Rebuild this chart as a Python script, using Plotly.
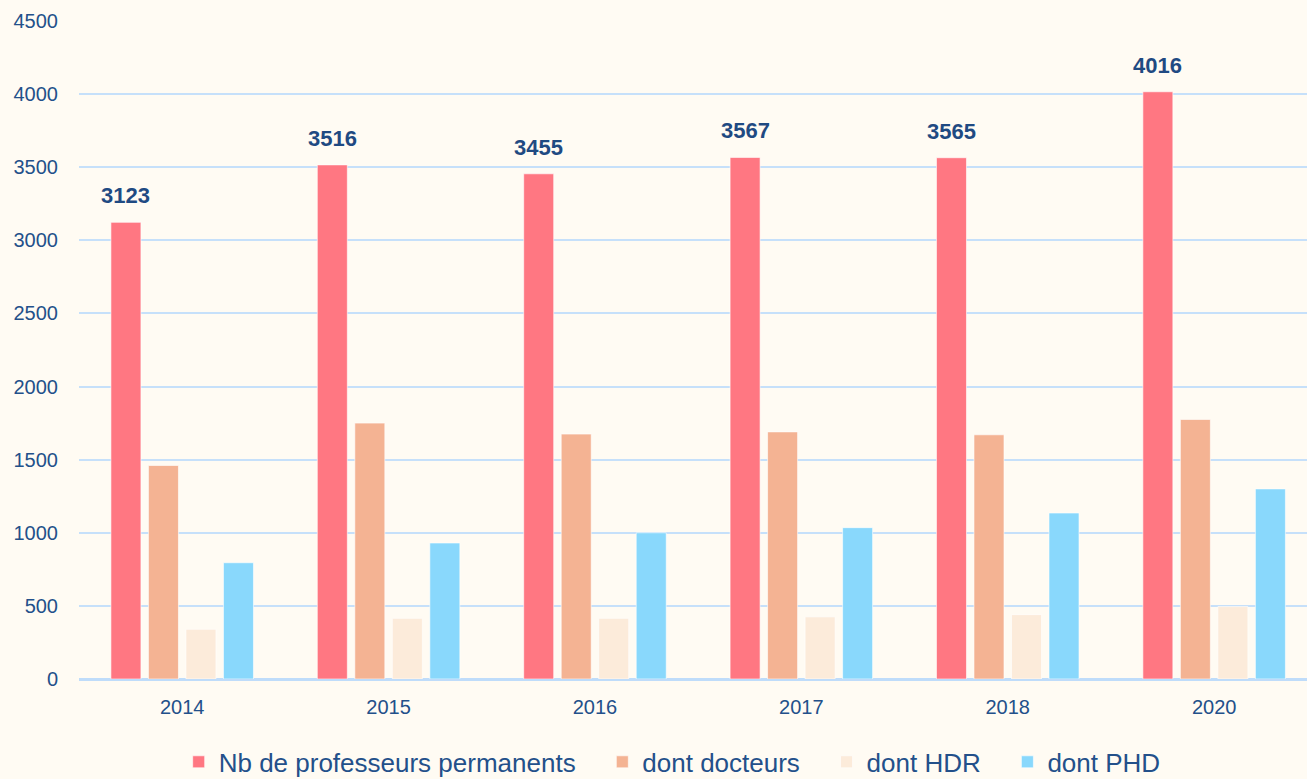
import plotly.graph_objects as go

# ===================== Data =====================
years = ["2014", "2015", "2016", "2017", "2018", "2020"]
permanents = [3123, 3516, 3455, 3567, 3565, 4016]
docteurs = [1460, 1750, 1675, 1690, 1670, 1775]
hdr = [340, 415, 415, 425, 440, 495]
phd = [795, 930, 1000, 1035, 1135, 1300]

series = [
    ("Nb de professeurs permanents", permanents, "#FF7782"),
    ("dont docteurs", docteurs, "#F4B393"),
    ("dont HDR", hdr, "#FCEBDA"),
    ("dont PHD", phd, "#89D8FC"),
]

FONT = "Liberation Sans, Arial, sans-serif"
BLUE = "#23508A"
BG = "#FFFBF3"
BARGAP = 0.273
PAD = "\u00a0\u00a0\u00a0"  # extra room after each legend entry

fig = go.Figure()
for name, vals, col in series:
    fig.add_trace(go.Bar(
        x=years, y=vals, name=name + PAD,
        marker=dict(color=col, line=dict(color="rgba(255,255,255,0.6)", width=1)),
    ))

# value labels above the first series (offset of the first bar in its group)
slot = (1 - BARGAP) / len(series)
first_off = -slot * (len(series) - 1) / 2
for i, v in enumerate(permanents):
    fig.add_annotation(
        x=i + first_off, y=v, text=f"<b>{v}</b>", showarrow=False,
        yanchor="bottom", yshift=12,
        font=dict(family=FONT, size=22, color="#1F4A82"),
    )

fig.update_layout(
    width=1307, height=779,
    barmode="group", bargap=BARGAP, bargroupgap=0.2,
    paper_bgcolor=BG, plot_bgcolor=BG,
    margin=dict(l=79, r=0, t=21, b=100, autoexpand=False),
    font=dict(family=FONT, color=BLUE),
    legend=dict(
        orientation="h", x=0.492, xanchor="center", y=-0.126, yanchor="middle",
        font=dict(family=FONT, size=26, color=BLUE),
        bgcolor="rgba(0,0,0,0)",
    ),
)
fig.update_xaxes(
    type="category", range=[-0.5, 5.45], showgrid=False, showline=False, zeroline=False,
    tickfont=dict(family=FONT, size=20, color=BLUE), ticks="", ticklabelstandoff=14,
)
fig.update_yaxes(
    range=[0, 4500], dtick=500, showgrid=True, gridcolor="#C6E0FA", gridwidth=2,
    zeroline=True, zerolinecolor="#BFDCFA", zerolinewidth=3, showline=False,
    tickfont=dict(family=FONT, size=20, color=BLUE), ticks="", ticklabelstandoff=20,
)

fig.write_html(
    "out.html",
    config={"displayModeBar": False},
    post_script="document.body.style.margin='0';document.body.style.background='%s';" % BG,
)
